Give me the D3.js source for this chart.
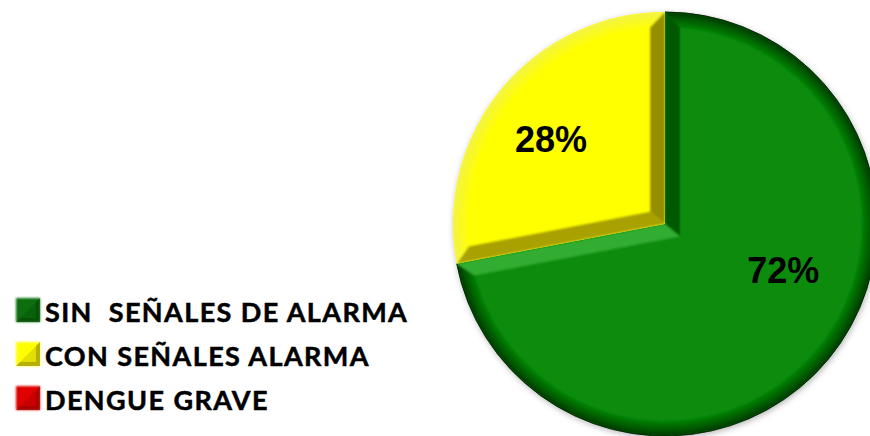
<!DOCTYPE html>
<html lang="es">
<head>
<meta charset="UTF-8">
<title>Dengue - señales de alarma</title>
<script src="https://cdn.jsdelivr.net/npm/d3@7"></script>
<style>
  body { margin: 0; background: #ffffff; }
</style>
</head>
<body>
<div id="container"></div>
<script>
// data
const categories = ["SIN  SEÑALES DE ALARMA", "CON SEÑALES ALARMA", "DENGUE GRAVE"];
const values = [72, 28, 0];

// look of each slice (face + bevel edges)
const sliceStyles = [
  { face: "#078b08", edgeStart: "#005800", edgeEnd: "#30ad30", rimIn: "#078b08", rimOut: "#003000", stroke: "rgba(0,30,0,0.6)" },
  { face: "#ffff00", edgeStart: "#a9a100", edgeEnd: "#958e00", rimIn: "#ffff00", rimOut: "#f2f250", stroke: "none" },
  { face: "#e00000", edgeStart: "#900000", edgeEnd: "#ff4040", rimIn: "#e00000", rimOut: "#700000", stroke: "none" }
];
const legendStyles = [
  { base: "#0b6e0b", dark: "#064806" },
  { base: "#ffff00", dark: "#9d9600" },
  { base: "#e00000", dark: "#9a0000" }
];

const W = 870, H = 436;
const cx = 665, cy = 224, R = 212, bevelW = 15;

const svg = d3.select("#container").append("svg")
  .attr("width", W).attr("height", H)
  .attr("viewBox", `0 0 ${W} ${H}`);

const defs = svg.append("defs");

defs.append("filter").attr("id", "shadow")
  .attr("x", "-20%").attr("y", "-20%").attr("width", "140%").attr("height", "140%")
  .append("feDropShadow")
  .attr("dx", 1).attr("dy", 2).attr("stdDeviation", 3)
  .attr("flood-color", "#000").attr("flood-opacity", 0.3);

defs.append("filter").attr("id", "soft")
  .append("feGaussianBlur").attr("stdDeviation", 1.3);

const total = d3.sum(values);
const pie = d3.pie().sort(null).value(d => d);
const arcs = pie(values);
const arc = d3.arc().innerRadius(0).outerRadius(R);

// bevel pieces for one slice (angles as in d3: 0 = 12 o'clock, clockwise)
function bevel(d, r, w) {
  const a0 = d.startAngle, a1 = d.endAngle;
  const u0 = [Math.sin(a0), -Math.cos(a0)], u1 = [Math.sin(a1), -Math.cos(a1)];
  const n0 = [Math.cos(a0), Math.sin(a0)], n1 = [-Math.cos(a1), -Math.sin(a1)];
  const cross = (p, q) => p[0] * q[1] - p[1] * q[0];
  const t = cross([w * (n1[0] - n0[0]), w * (n1[1] - n0[1])], u1) / cross(u0, u1);
  const I = [w * n0[0] + t * u0[0], w * n0[1] + t * u0[1]];
  const L = Math.sqrt((r - w) ** 2 - w * w);
  const Q0 = [w * n0[0] + L * u0[0], w * n0[1] + L * u0[1]];
  const Q1 = [w * n1[0] + L * u1[0], w * n1[1] + L * u1[1]];
  const P0 = [r * u0[0], r * u0[1]], P1 = [r * u1[0], r * u1[1]];
  const large = (a1 - a0) > Math.PI ? 1 : 0;
  const ri = r - w;
  return {
    face: `M${I} L${Q0} A${ri},${ri} 0 ${large} 1 ${Q1} Z`,
    edgeStart: `M0,0 L${P0} L${Q0} L${I} Z`,
    edgeEnd: `M0,0 L${I} L${Q1} L${P1} Z`,
    rim: `M${P0} A${r},${r} 0 ${large} 1 ${P1} L${Q1} A${ri},${ri} 0 ${large} 0 ${Q0} Z`
  };
}

const pieG = svg.append("g").attr("transform", `translate(${cx},${cy})`);
const shadowG = pieG.append("g").attr("filter", "url(#shadow)");

arcs.forEach((d, i) => {
  if (d.endAngle - d.startAngle <= 0) return;
  const st = sliceStyles[i];

  const grad = defs.append("radialGradient").attr("id", "rim" + i)
    .attr("gradientUnits", "userSpaceOnUse")
    .attr("cx", 0).attr("cy", 0).attr("r", R);
  grad.append("stop").attr("offset", ((R - bevelW - 2) / R * 100) + "%").attr("stop-color", st.rimIn);
  grad.append("stop").attr("offset", ((R - 5) / R * 100) + "%").attr("stop-color", d3.interpolateRgb(st.rimIn, st.rimOut)(0.6));
  grad.append("stop").attr("offset", "100%").attr("stop-color", st.rimOut);

  defs.append("clipPath").attr("id", "clip" + i)
    .append("path").attr("d", arc(d));

  shadowG.append("path").attr("d", arc(d)).attr("fill", st.face);

  const b = bevel(d, R, bevelW);
  const bg = pieG.append("g").attr("clip-path", `url(#clip${i})`)
    .append("g").attr("filter", "url(#soft)");
  bg.append("path").attr("d", b.rim).attr("fill", `url(#rim${i})`);
  bg.append("path").attr("d", b.edgeStart).attr("fill", st.edgeStart);
  bg.append("path").attr("d", b.edgeEnd).attr("fill", st.edgeEnd);
  bg.append("path").attr("d", b.face).attr("fill", st.face);

  if (st.stroke !== "none") {
    pieG.append("path")
      .attr("d", d3.arc().innerRadius(R).outerRadius(R)(d))
      .attr("fill", "none").attr("stroke", st.stroke).attr("stroke-width", 1);
  }
});

// percentage labels
const labelFrac = [0.43, 0.47, 0.5];
const labelR = [127, 142, 140];
arcs.forEach((d, i) => {
  if (d.value <= 0) return;
  const a = d.startAngle + labelFrac[i] * (d.endAngle - d.startAngle);
  pieG.append("text")
    .attr("x", Math.sin(a) * labelR[i])
    .attr("y", -Math.cos(a) * labelR[i] + 13)
    .attr("text-anchor", "middle")
    .attr("font-family", "'Liberation Sans', Arial, sans-serif")
    .attr("font-weight", "bold")
    .attr("font-size", 36)
    .attr("fill", "#000")
    .text(Math.round(d.value / total * 100) + "%");
});

// legend
const sq = 24;
const legend = svg.append("g").attr("transform", "translate(16,322)");
categories.forEach((c, i) => {
  const ls = legendStyles[i];
  const g = legend.append("g").attr("transform", `translate(0,${i * 44})`);
  g.append("rect").attr("x", 0).attr("y", -sq).attr("width", sq).attr("height", sq)
    .attr("fill", ls.base).attr("filter", "url(#soft)");
  g.append("path").attr("d", `M${sq},${-sq} L${sq},0 L0,0 Z`).attr("fill", ls.dark).attr("opacity", 0.75);
  g.append("rect").attr("x", 4).attr("y", -sq + 4).attr("width", sq - 8).attr("height", sq - 8)
    .attr("fill", ls.base).attr("opacity", 0.6);
  g.append("text")
    .attr("x", 29).attr("y", 0)
    .attr("font-family", "Lato, 'Open Sans', sans-serif")
    .attr("font-weight", "bold")
    .attr("font-size", 27)
    .attr("letter-spacing", 1.4)
    .style("white-space", "pre")
    .attr("fill", "#000")
    .attr("stroke", "#000").attr("stroke-width", 0.5)
    .text(c);
});
</script>
</body>
</html>
